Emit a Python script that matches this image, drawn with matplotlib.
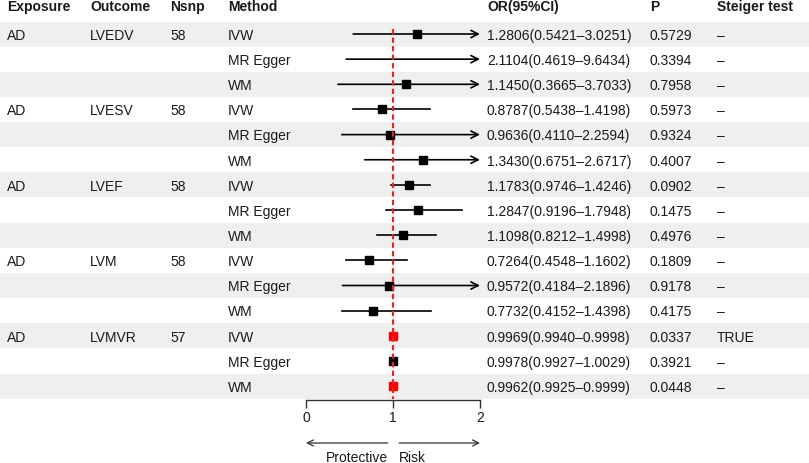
import matplotlib
matplotlib.use('Agg')
import matplotlib.pyplot as plt
import numpy as np

plt.rcParams['font.family'] = ['Liberation Sans', 'DejaVu Sans']

# data
exposure = 'AD'
outcomes = ['LVEDV', 'LVESV', 'LVEF', 'LVM', 'LVMVR']
nsnp = [58, 58, 58, 58, 57]
methods = ['IVW', 'MR Egger', 'WM']
or_est = [1.2806, 2.1104, 1.1450, 0.8787, 0.9636, 1.3430, 1.1783, 1.2847, 1.1098,
          0.7264, 0.9572, 0.7732, 0.9969, 0.9978, 0.9962]
ci_lo = [0.5421, 0.4619, 0.3665, 0.5438, 0.4110, 0.6751, 0.9746, 0.9196, 0.8212,
         0.4548, 0.4184, 0.4152, 0.9940, 0.9927, 0.9925]
ci_hi = [3.0251, 9.6434, 3.7033, 1.4198, 2.2594, 2.6717, 1.4246, 1.7948, 1.4998,
         1.1602, 2.1896, 1.4398, 0.9998, 1.0029, 0.9999]
pvals = [0.5729, 0.3394, 0.7958, 0.5973, 0.9324, 0.4007, 0.0902, 0.1475, 0.4976,
         0.1809, 0.9178, 0.4175, 0.0337, 0.3921, 0.0448]
steiger = ['–'] * 12 + ['TRUE', '–', '–']
headers = ['Exposure', 'Outcome', 'Nsnp', 'Method', 'OR(95%CI)', 'P', 'Steiger test']

W, H = 809, 464
fig = plt.figure(figsize=(W / 100, H / 100), dpi=100)
fig.patch.set_facecolor('white')

# background / table axes in pixel units
tb = fig.add_axes([0, 0, 1, 1])
tb.set_xlim(0, W)
tb.set_ylim(H, 0)
tb.axis('off')

n = len(or_est)
ys = 35 + np.arange(n) * 25.15
col_x = [7, 90, 170, 228, 487, 650, 717]
fs = 10
txtc = '#1a1a1a'

for i, y in enumerate(ys):
    if i % 2 == 0:
        tb.axhspan(y - 12.5, y + 12.5, color='#eef0ef', lw=0, zorder=0)

for x, h in zip(col_x, headers):
    tb.text(x, 11, h, fontsize=fs, fontweight='bold', color=txtc, va='baseline')

for i, y in enumerate(ys):
    bl = y + 4.8
    g, m = divmod(i, 3)
    if m == 0:
        tb.text(col_x[0], bl, exposure, fontsize=fs, color=txtc, va='baseline')
        tb.text(col_x[1], bl, outcomes[g], fontsize=fs, color=txtc, va='baseline')
        tb.text(col_x[2], bl, str(nsnp[g]), fontsize=fs, color=txtc, va='baseline')
    tb.text(col_x[3], bl, methods[m], fontsize=fs, color=txtc, va='baseline')
    tb.text(col_x[4], bl, '%.4f(%.4f–%.4f)' % (or_est[i], ci_lo[i], ci_hi[i]),
            fontsize=fs, color=txtc, va='baseline')
    tb.text(col_x[5], bl, '%.4f' % pvals[i], fontsize=fs, color=txtc, va='baseline')
    tb.text(col_x[6], bl, steiger[i], fontsize=fs, color=txtc, va='baseline')

# forest axes: 0..2 mapped onto pixels 306..480
ax = fig.add_axes([306 / W, 0, 174 / W, 1])
ax.patch.set_alpha(0)
ax.set_xlim(0, 2)
ax.set_ylim(H, 0)
for s in ['top', 'left', 'right']:
    ax.spines[s].set_visible(False)
ax.spines['bottom'].set_position(('data', 401))
ax.spines['bottom'].set_color('#333333')
ax.spines['bottom'].set_linewidth(1.0)
ax.set_yticks([])
ax.set_xticks([0, 1, 2])
ax.set_xticklabels(['0', '1', '2'], fontsize=fs, color=txtc)
ax.tick_params(axis='x', direction='out', length=5.5, width=1.0, color='#333333', pad=2)

for i, y in enumerate(ys):
    lo, hi, est = ci_lo[i], ci_hi[i], or_est[i]
    if hi > 2:
        ax.annotate('', xy=(2, y), xytext=(lo, y), annotation_clip=False,
                    arrowprops=dict(arrowstyle='->', lw=1.2, color='black',
                                    shrinkA=0, shrinkB=0, mutation_scale=13))
    else:
        ax.plot([lo, hi], [y, y], color='black', lw=1.2, clip_on=False, zorder=2)
    if est <= 2:
        c = 'red' if pvals[i] < 0.05 else 'black'
        ax.plot(est, y, 's', ms=5.2, color=c, mec=c, clip_on=False, zorder=3)

ax.plot([1, 1], [30, 400], color='#ff1a1a', lw=1.5, ls=(0, (2.5, 1.6)), zorder=4, clip_on=False)

# direction arrows
ax.annotate('', xy=(0, 444), xytext=(0.94, 444), annotation_clip=False,
            arrowprops=dict(arrowstyle='->', lw=0.9, color='#333333',
                            shrinkA=0, shrinkB=0, mutation_scale=11))
ax.annotate('', xy=(2, 444), xytext=(1.07, 444), annotation_clip=False,
            arrowprops=dict(arrowstyle='->', lw=0.9, color='#333333',
                            shrinkA=0, shrinkB=0, mutation_scale=11))
ax.text(0.94, 462, 'Protective', fontsize=fs, color=txtc, ha='right', va='baseline')
ax.text(1.07, 462, 'Risk', fontsize=fs, color=txtc, ha='left', va='baseline')

fig.savefig('out.png', dpi=100)
